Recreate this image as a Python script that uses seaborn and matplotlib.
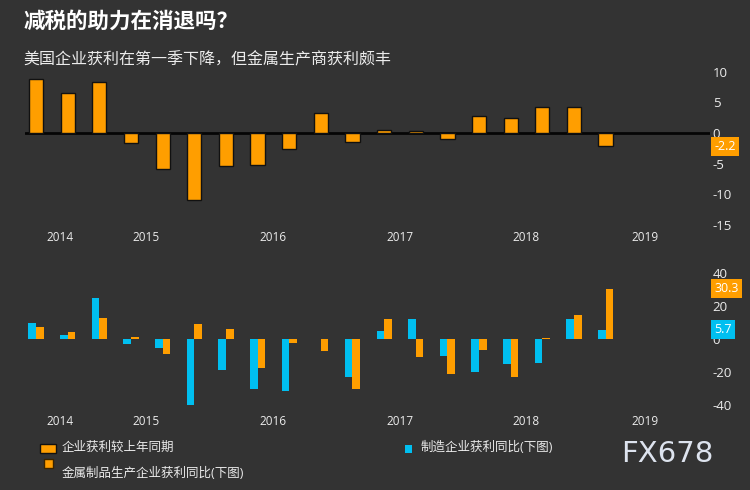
import pandas as pd
import matplotlib
matplotlib.use('Agg')
import matplotlib.pyplot as plt
from matplotlib.patches import Rectangle
import seaborn as sns

# 季度（共19个）
quarters = ['2014Q1', '2014Q2', '2014Q3', '2014Q4',
            '2015Q1', '2015Q2', '2015Q3', '2015Q4',
            '2016Q1', '2016Q2', '2016Q3', '2016Q4',
            '2017Q1', '2017Q2', '2017Q3', '2017Q4',
            '2018Q1', '2018Q2', '2018Q3']

# 上图：企业获利较上年同期
profit_yoy = [8.9, 6.6, 8.3, -1.7, -5.9, -10.9, -5.4, -5.2, -2.6, 3.3,
              -1.4, 0.5, 0.3, -0.9, 2.8, 2.4, 4.2, 4.2, -2.2]

# 下图：制造企业 / 金属制品生产企业获利同比
manuf_yoy = [9.6, 2.4, 24.7, -3.0, -5.6, -39.8, -18.7, -30.1, -31.3, 0.0,
             -22.9, 4.8, 12.2, -10.2, -19.9, -15.3, -14.5, 12.2, 5.7]
metal_yoy = [7.2, 4.2, 12.7, 1.2, -9.0, 9.2, 6.0, -17.5, -2.4, -7.2,
             -30.1, 12.2, -10.8, -21.3, -6.6, -22.9, 0.8, 14.7, 30.3]

years = ['2014', '2015', '2016', '2017', '2018', '2019']
year_pos = [0.76, 3.48, 7.49, 11.5, 15.48, 19.24]

top_ticks = [10, 5, 0, -5, -10, -15]
bottom_ticks = [40, 20, 0, -20, -40]

lab_profit = '企业获利较上年同期'
lab_manuf = '制造企业获利同比(下图)'
lab_metal = '金属制品生产企业获利同比(下图)'

bg = '#333333'
orange = '#FF9E00'
blue = '#00BFF0'
txt = '#ECECEC'

sns.set_style('dark')
plt.rcParams['font.family'] = ['Open Sans', 'Noto Sans CJK SC', 'DejaVu Sans']
plt.rcParams['axes.unicode_minus'] = False

fig = plt.figure(figsize=(7.5, 4.9), dpi=100)
fig.patch.set_facecolor(bg)

def px(x, y):
    return x / 750, 1 - y / 490

# 上图
ax1 = fig.add_axes([25 / 750, 1 - 229.7 / 490, 685 / 750, 162.8 / 490])
sns.barplot(x=quarters, y=profit_yoy, color=orange, saturation=1, width=0.45,
            edgecolor='#111111', linewidth=1, ax=ax1, zorder=2)
ax1.axhline(0, color='#050505', lw=2, zorder=1)
ax1.set_ylim(-15.8, 10.8)
ax1.set_yticks(top_ticks)
ax1.annotate(f'{profit_yoy[-1]}', xy=(1.0, profit_yoy[-1]),
             xycoords=('axes fraction', 'data'), xytext=(3, 0),
             textcoords='offset points', ha='left', va='center',
             color='white', fontsize=9, annotation_clip=False,
             bbox=dict(boxstyle='square,pad=0.25', fc=orange, ec='none'))

# 下图
df = pd.DataFrame({
    'quarter': quarters * 2,
    'value': manuf_yoy + metal_yoy,
    'series': [lab_manuf] * len(quarters) + [lab_metal] * len(quarters),
})
ax2 = fig.add_axes([25 / 750, 1 - 413.7 / 490, 685 / 750, 151.7 / 490])
sns.barplot(data=df, x='quarter', y='value', hue='series',
            palette=[blue, orange], saturation=1, width=0.48,
            errorbar=None, legend=False, linewidth=0, ax=ax2)
ax2.set_ylim(-45, 46.4)
ax2.set_yticks(bottom_ticks)
for val, col in [(metal_yoy[-1], orange), (manuf_yoy[-1], blue)]:
    ax2.annotate(f'{val}', xy=(1.0, val), xycoords=('axes fraction', 'data'),
                 xytext=(3, 0), textcoords='offset points', ha='left',
                 va='center', color='white', fontsize=9,
                 annotation_clip=False, zorder=5,
                 bbox=dict(boxstyle='square,pad=0.25', fc=col, ec='none'))

for ax in (ax1, ax2):
    ax.set_facecolor(bg)
    ax.set_xlim(-0.35, 21.3)
    ax.set_xticks(year_pos, years)
    ax.set_xlabel('')
    ax.set_ylabel('')
    ax.yaxis.tick_right()
    ax.tick_params(axis='both', length=0, colors=txt)
    ax.tick_params(axis='x', pad=1, labelsize=8.5)
    ax.tick_params(axis='y', pad=2, labelsize=9.5)
    ax.grid(False)
    for s in ax.spines.values():
        s.set_visible(False)

# 标题
fig.text(*px(23, 22), '减税的助力在消退吗？', color='white', fontsize=15.5,
         fontweight='bold', va='center', ha='left')
fig.text(*px(23, 60), '美国企业获利在第一季下降，但金属生产商获利颇丰',
         color=txt, fontsize=11.5, va='center', ha='left')

# 图例
fig.patches.append(Rectangle(px(40, 453), 16 / 750, 9 / 490, fc=orange,
                             ec='#111111', lw=1, transform=fig.transFigure))
fig.text(*px(62, 447), lab_profit, color=txt, fontsize=9, va='center')
fig.patches.append(Rectangle(px(44, 468), 9 / 750, 9 / 490, fc=orange,
                             ec='#3a2400', lw=1, transform=fig.transFigure))
fig.text(*px(62, 473), lab_metal, color=txt, fontsize=9, va='center')
fig.patches.append(Rectangle(px(405, 453), 7 / 750, 8 / 490, fc=blue,
                             ec='none', transform=fig.transFigure))
fig.text(*px(421, 447), lab_manuf, color=txt, fontsize=9, va='center')

fig.text(*px(621, 454), 'FX678', color='#DDE3EE', fontsize=21,
         family='DejaVu Sans', va='center', ha='left')

fig.savefig('out.png', dpi=100, facecolor=bg)
